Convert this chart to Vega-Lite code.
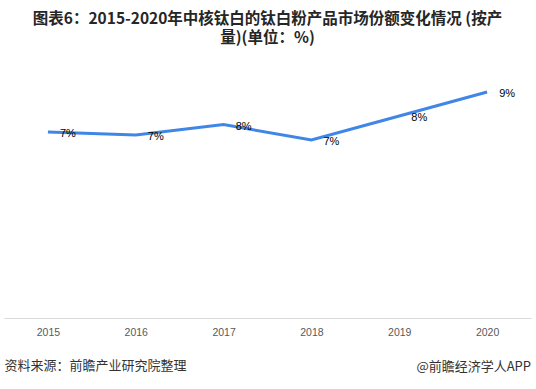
{
  "$schema": "https://vega.github.io/schema/vega-lite/v6.json",
  "width": 527,
  "height": 263,
  "autosize": {"type": "none"},
  "padding": {"left": 4, "top": 55, "right": 5, "bottom": 71},
  "background": "white",
  "title": {
    "text": ["图表6：2015-2020年中核钛白的钛白粉产品市场份额变化情况 (按产", "量)(单位：%)"],
    "font": "Noto Sans CJK SC",
    "fontSize": 15.5,
    "fontWeight": "bold",
    "color": "#262626",
    "anchor": "middle",
    "frame": "group",
    "offset": 9,
    "lineHeight": 19
  },
  "config": {"view": {"stroke": null}},
  "datasets": {
    "share": [
      {"year": "2015", "share": 0.072},
      {"year": "2016", "share": 0.0705},
      {"year": "2017", "share": 0.0757},
      {"year": "2018", "share": 0.068},
      {"year": "2019", "share": 0.08},
      {"year": "2020", "share": 0.092}
    ],
    "notes": [
      {"year": "2020", "share": -0.021, "note": "@前瞻经济学人APP"}
    ]
  },
  "data": {"name": "share"},
  "encoding": {
    "x": {
      "field": "year",
      "type": "ordinal",
      "scale": {"type": "point", "padding": 0.5},
      "axis": {
        "title": "资料来源：前瞻产业研究院整理",
        "titleFont": "Noto Sans CJK SC",
        "titleFontSize": 13,
        "titleFontWeight": "normal",
        "titleColor": "#333333",
        "titleAnchor": "start",
        "titleAlign": "left",
        "titlePadding": 22,
        "labelAngle": 0,
        "labelFont": "Liberation Sans",
        "labelFontSize": 10.5,
        "labelColor": "#595959",
        "labelPadding": 9,
        "ticks": false,
        "domainColor": "#d9d9d9",
        "domainWidth": 1,
        "encode": {"labels": {"update": {"dx": {"signal": "-14 * datum.index"}}}}
      }
    },
    "y": {
      "field": "share",
      "type": "quantitative",
      "scale": {"domain": [-0.021, 0.1105], "zero": false, "nice": false},
      "axis": null
    }
  },
  "layer": [
    {
      "mark": {"type": "line", "color": "#3f86e6", "strokeWidth": 3}
    },
    {
      "mark": {"type": "text", "font": "Liberation Sans", "fontSize": 11, "color": "#000000", "dx": 20, "dy": 2, "align": "center", "baseline": "middle"},
      "encoding": {"text": {"field": "share", "type": "quantitative", "format": ".0%"}}
    },
    {
      "data": {"name": "notes"},
      "mark": {"type": "text", "font": "Noto Sans CJK SC", "fontSize": 13, "color": "#333333", "align": "right", "baseline": "middle", "dx": 44, "dy": 49, "clip": false},
      "encoding": {
        "text": {"field": "note", "type": "nominal"}
      }
    }
  ]
}
